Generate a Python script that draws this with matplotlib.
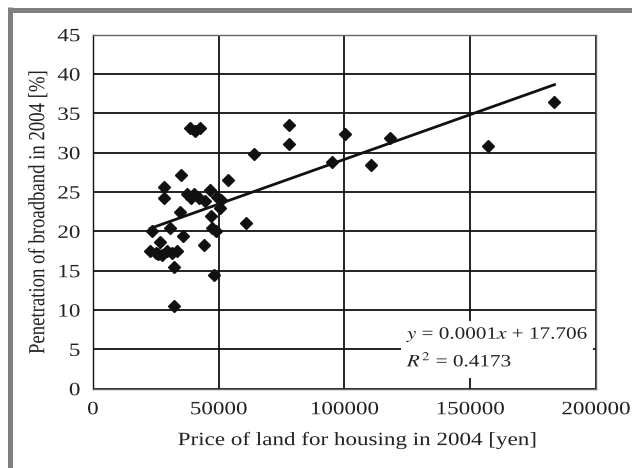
import numpy as np
import matplotlib
matplotlib.use("Agg")
import matplotlib.pyplot as plt
from matplotlib.lines import Line2D
from matplotlib.patches import Rectangle
from matplotlib.patheffects import AbstractPathEffect
from matplotlib.transforms import Affine2D

plt.rcParams["font.family"] = ["Liberation Serif", "DejaVu Serif"]
plt.rcParams["mathtext.fontset"] = "stix"

# Land price for housing (yen) and broadband penetration (%) by prefecture, 2004
land_price = [
    38500, 40500, 42500, 35100, 53700, 28100, 28400, 46500, 37500, 40100,
    42100, 49500, 50800, 34500, 47000, 50500, 23500, 30800, 47500, 35900,
    26500, 44100, 22800, 26000, 29500, 33500, 31500, 27500, 32100, 48200,
    32400, 60800, 64100, 78100, 78100, 95100, 100100, 110400, 118100, 157100,
    183500, 39000, 44500, 25000, 48800,
]
broadband = [
    33.2, 32.8, 33.2, 27.2, 26.5, 25.6, 24.2, 25.2, 24.7, 24.8,
    24.2, 24.4, 24.0, 22.4, 21.9, 23.0, 20.1, 20.4, 20.4, 19.4,
    18.6, 18.3, 17.5, 17.1, 17.5, 17.5, 17.2, 17.0, 15.5, 14.4,
    10.5, 21.1, 29.8, 33.5, 31.1, 28.8, 32.4, 28.4, 31.9, 30.8,
    36.5, 24.3, 23.8, 17.3, 20.1,
]

x_ticks = [0, 50000, 100000, 150000, 200000]
y_ticks = [0, 5, 10, 15, 20, 25, 30, 35, 40, 45]


class WideText(AbstractPathEffect):
    """Widen glyphs horizontally (screen x) about the text's anchor point."""

    def __init__(self, artist, sx):
        super().__init__()
        self.artist = artist
        self.sx = sx

    def draw_path(self, renderer, gc, tpath, affine, rgbFace=None):
        t = self.artist
        x0 = t.get_transform().transform(t.get_unitless_position())[0]
        widen = Affine2D().translate(-x0, 0).scale(self.sx, 1).translate(x0, 0)
        renderer.draw_path(gc, tpath, affine + widen, rgbFace)


def widen(text, sx=1.23):
    text.set_path_effects([WideText(text, sx)])


x = np.array(land_price, dtype=float)
y = np.array(broadband, dtype=float)
slope, intercept = np.polyfit(x, y, 1)

fig = plt.figure(figsize=(6.32, 4.68), dpi=100)
ax = fig.add_axes([0.147, 0.1694, 0.796, 0.7565])

ax.set_xlim(0, 200000)
ax.set_ylim(0, 45)
ax.set_xticks(x_ticks)
ax.set_yticks(y_ticks)
ax.set_xticklabels([str(t) for t in x_ticks])
ax.set_yticklabels([str(t) for t in y_ticks])
ax.tick_params(length=0, labelsize=13.5, colors="#222222")
ax.tick_params(axis="y", pad=9)
ax.tick_params(axis="x", pad=9)

ax.grid(True, color="#111111", linewidth=1.3)
ax.set_axisbelow(True)
for side in ["top", "right", "bottom"]:
    ax.spines[side].set_color("#666666")
    ax.spines[side].set_linewidth(1.0)
ax.spines["left"].set_color("#111111")
ax.spines["left"].set_linewidth(1.0)

ax.plot(x, y, linestyle="none", marker="D", markersize=6.6,
        color="#111111", zorder=3)

xf = np.array([x.min(), x.max()])
ax.plot(xf, slope * xf + intercept, color="#111111", linewidth=2.0, zorder=4)

ax.set_xlabel("Price of land for housing in 2004 [yen]", fontsize=13.5,
              color="#222222")
ax.set_ylabel("Penetration of broadband in 2004 [%]", fontsize=13.5,
              labelpad=9, color="#222222")
ax.xaxis.set_label_coords(0.527, -0.12)

# White panel behind the regression equation
ax.add_patch(Rectangle((122500, 1.4), 76500, 7.2, facecolor="white",
                       edgecolor="none", zorder=2.5))
eq1 = ax.text(124800, 6.8, "$y$ = 0.0001$x$ + 17.706", fontsize=12.4,
              ha="left", va="center", color="#222222", zorder=5)
eq2 = ax.text(124800, 3.6, "$R^2$ = 0.4173", fontsize=12.4,
              ha="left", va="center", color="#222222", zorder=5)

for t in ax.get_xticklabels() + ax.get_yticklabels():
    widen(t)
widen(ax.xaxis.label)
widen(ax.yaxis.label)
widen(eq1)
widen(eq2)

# Outer gray frame
frame_color = "#808080"
lw = 5 * 72 / 100
fig.add_artist(Line2D([9.5 / 632, 1.0], [1 - 9.5 / 468, 1 - 9.5 / 468],
                      transform=fig.transFigure, color=frame_color,
                      linewidth=lw, solid_capstyle="butt"))
fig.add_artist(Line2D([9.5 / 632, 9.5 / 632], [0.0, 1 - 7 / 468],
                      transform=fig.transFigure, color=frame_color,
                      linewidth=lw, solid_capstyle="butt"))

fig.savefig("out.png", dpi=100, facecolor="white")
